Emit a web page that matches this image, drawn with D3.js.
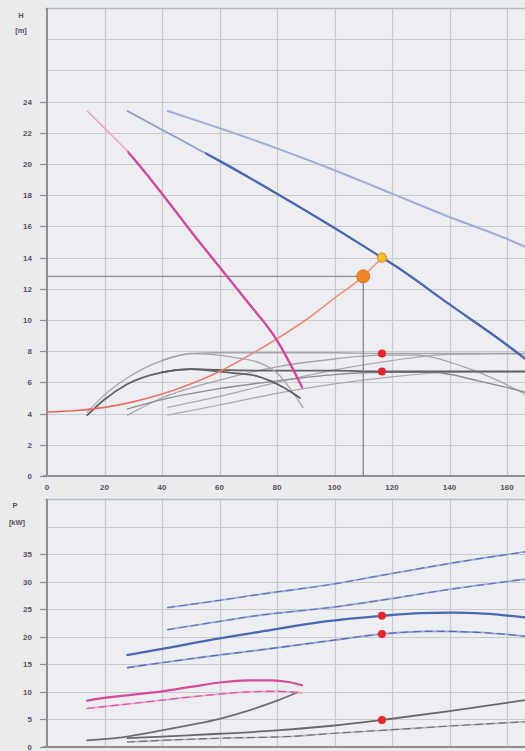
<!DOCTYPE html>
<html>
<head>
<meta charset="utf-8">
<script src="https://cdn.jsdelivr.net/npm/d3@7/dist/d3.min.js"></script>
<style>
  html, body { margin: 0; padding: 0; background: #e9ebed; overflow: hidden; }
  svg { display: block; }
  text { font-family: "Liberation Sans", Arial, sans-serif; }
</style>
</head>
<body>
<svg id="chart" width="525" height="751"></svg>
<script>
// ---- axis ticks ----
const qTicks = [0, 20, 40, 60, 80, 100, 120, 140, 160];
const hTicks = [0, 2, 4, 6, 8, 10, 12, 14, 16, 18, 20, 22, 24];
const hExtraGrid = [26, 28];
const pTicks = [0, 5, 10, 15, 20, 25, 30, 35];
const pExtraGrid = [40];

// ---- head curves H(Q) ----
const hLargePump = [[42,23.4],[60,22.3],[80,21.0],[100,19.6],[120,18.1],[140,16.6],[160,15.2],[170,14.4]];
const hSelectedPump = [[28,23.4],[40,22.2],[53,20.9],[60,20.2],[80,18.1],[100,15.9],[116.5,14.0],[120,13.6],[140,11.0],[160,8.4],[170,7.0]];
const hSmallPump = [[14,23.4],[20,22.3],[28,20.8],[40,18.1],[53,15.0],[60,13.4],[70,11.1],[80,8.7],[84,7.4],[88.7,5.7]];
const systemCurve = [[0,4.1],[10,4.2],[20,4.4],[30,4.75],[40,5.25],[50,5.9],[60,6.7],[70,7.7],[80,8.8],[90,10.0],[100,11.4],[110,12.8],[116.5,14.0]];

// ---- efficiency curves (grey) on the head chart ----
const etaSmallA = [[14,4.1],[20,5.2],[28,6.3],[40,7.4],[50,7.85],[57,7.8],[65,7.6],[74,7.25],[80,6.6],[89,4.4]];
const etaSmallB = [[14,3.9],[20,4.9],[28,5.9],[40,6.65],[50,6.85],[57,6.75],[65,6.6],[73,6.4],[82,5.7],[88,5.0]];
const etaFlatA = [[40,7.4],[50,7.85],[60,7.9],[80,7.9],[100,7.9],[116.5,7.85],[140,7.85],[170,7.85]];
const etaFlatB = [[40,6.65],[50,6.85],[60,6.8],[80,6.75],[100,6.75],[116.5,6.7],[140,6.7],[170,6.7]];
const etaSelA = [[28,3.9],[40,5.0],[60,6.15],[80,7.0],[100,7.5],[116.5,7.75],[128,7.75],[145,7.0],[170,4.9]];
const etaSelB = [[28,4.3],[40,4.9],[60,5.6],[80,6.1],[100,6.5],[116.5,6.65],[134,6.65],[150,6.1],[170,5.2]];
const etaLargeA = [[42,4.4],[60,5.1],[80,6.0],[100,6.8],[120,7.4],[140,7.8],[170,7.85]];
const etaLargeB = [[42,3.9],[60,4.55],[80,5.3],[100,5.9],[120,6.35],[140,6.65],[170,6.7]];

// ---- power curves P(Q) ----
const pLargeA = [[42,25.3],[60,26.6],[74,27.7],[100,29.6],[117,31.2],[140,33.3],[170,35.7]];
const pLargeB = [[42,21.3],[60,22.8],[74,23.9],[100,25.4],[117,26.7],[140,28.6],[170,30.7]];
const pSelectedA = [[28,16.7],[40,17.8],[60,19.7],[74,20.9],[97,22.8],[116.5,23.8],[130,24.3],[141,24.4],[152,24.2],[170,23.3]];
const pSelectedB = [[28,14.4],[40,15.3],[60,16.7],[74,17.6],[100,19.4],[116.5,20.5],[134,21.0],[150,20.8],[170,19.9]];
const pSmallA = [[14,8.4],[20,8.9],[30,9.5],[40,10.1],[50,10.9],[60,11.7],[70,12.1],[78,12.1],[84,11.8],[88.7,11.2]];
const pSmallB = [[14,7.0],[30,7.9],[40,8.5],[60,9.6],[70,10.0],[80,10.1],[88.7,9.8]];
const pGreySmall = [[14,1.2],[28,1.9],[40,3.0],[50,4.0],[60,5.1],[70,6.6],[80,8.4],[87,9.9]];
const pGreySel = [[28,1.6],[40,1.9],[60,2.4],[80,3.0],[100,3.9],[116.5,4.9],[140,6.5],[170,8.8]];
const pGreyDash = [[28,0.9],[40,1.2],[60,1.6],[84,1.9],[100,2.5],[119,3.1],[140,3.8],[170,4.7]];

// ---- duty point ----
const dutyQ = 110, dutyH = 12.8;
const crossing = [116.5, 14.0];
const etaMarks = [[116.5,7.85],[116.5,6.7]];
const powerMarks = [[116.5,23.8],[116.5,20.5],[116.5,4.9]];

const svg = d3.select("#chart");

const x = d3.scaleLinear().domain([0, 160]).range([47, 507]);
const yH = d3.scaleLinear().domain([0, 30]).range([476, 8]);
const yP = d3.scaleLinear().domain([0, 45]).range([747, 499]);

const gridColor = "#c8cacd";
const axisColor = "#8d8f93";
const labelColor = "#5e4d58";

function panel(y, yTicks, extra, yTop, yBottom) {
  const g = svg.append("g");
  g.append("rect").attr("x", x(0)).attr("y", yTop).attr("width", 525 - x(0)).attr("height", yBottom - yTop)
    .attr("fill", "#eceef1");
  g.selectAll(".hg").data(yTicks.concat(extra)).join("line")
    .attr("x1", x(0)).attr("x2", 525)
    .attr("y1", d => Math.round(y(d)) + 0.5).attr("y2", d => Math.round(y(d)) + 0.5)
    .attr("stroke", gridColor).attr("stroke-width", 1.2);
  g.selectAll(".vg").data(qTicks.slice(1)).join("line")
    .attr("x1", d => Math.round(x(d)) + 0.5).attr("x2", d => Math.round(x(d)) + 0.5)
    .attr("y1", yTop).attr("y2", yBottom)
    .attr("stroke", gridColor).attr("stroke-width", 1.2);
  g.append("line").attr("x1", x(0) - 2).attr("x2", 525).attr("y1", yTop + 0.5).attr("y2", yTop + 0.5)
    .attr("stroke", "#b9bbbe").attr("stroke-width", 1.5);
  g.selectAll(".yt").data(yTicks).join("line")
    .attr("x1", x(0) - 7).attr("x2", x(0))
    .attr("y1", d => Math.round(y(d)) + 0.5).attr("y2", d => Math.round(y(d)) + 0.5)
    .attr("stroke", axisColor).attr("stroke-width", 1.2);
  g.selectAll(".yl").data(yTicks).join("text")
    .attr("x", x(0) - 15).attr("y", d => y(d) + 3)
    .attr("text-anchor", "end").attr("font-size", 8).attr("font-weight", "bold")
    .attr("fill", labelColor).text(d => d);
  g.append("line").attr("x1", x(0)).attr("x2", x(0)).attr("y1", yTop).attr("y2", yBottom + 1)
    .attr("stroke", axisColor).attr("stroke-width", 2);
  g.append("line").attr("x1", x(0) - 4).attr("x2", 525).attr("y1", yBottom).attr("y2", yBottom)
    .attr("stroke", axisColor).attr("stroke-width", 2);
  return g;
}

const headPanel = panel(yH, hTicks, hExtraGrid, 8, 476);
const powerPanel = panel(yP, pTicks, pExtraGrid, 499, 747);

// x tick labels under the head chart
headPanel.selectAll(".xl").data(qTicks).join("text")
  .attr("x", d => x(d)).attr("y", 490)
  .attr("text-anchor", "middle").attr("font-size", 8).attr("font-weight", "bold")
  .attr("fill", labelColor).text(d => d);

// axis titles
svg.append("text").attr("x", 21).attr("y", 18).attr("text-anchor", "middle")
  .attr("font-size", 7.5).attr("font-weight", "bold").attr("fill", labelColor).text("H");
svg.append("text").attr("x", 21).attr("y", 33).attr("text-anchor", "middle")
  .attr("font-size", 7.5).attr("font-weight", "bold").attr("fill", labelColor).text("[m]");
svg.append("text").attr("x", 15).attr("y", 508).attr("text-anchor", "middle")
  .attr("font-size", 7.5).attr("font-weight", "bold").attr("fill", labelColor).text("P");
svg.append("text").attr("x", 17).attr("y", 525).attr("text-anchor", "middle")
  .attr("font-size", 7.5).attr("font-weight", "bold").attr("fill", labelColor).text("[kW]");

// clip regions
const defs = svg.append("defs");
defs.append("clipPath").attr("id", "clipTop").append("rect")
  .attr("x", x(0)).attr("y", 8).attr("width", 525 - x(0)).attr("height", 468);
defs.append("clipPath").attr("id", "clipBot").append("rect")
  .attr("x", x(0)).attr("y", 499).attr("width", 525 - x(0)).attr("height", 248);
defs.append("clipPath").attr("id", "clipSelLow").append("rect")
  .attr("x", 0).attr("y", 0).attr("width", x(55)).attr("height", 751);
defs.append("clipPath").attr("id", "clipSelHigh").append("rect")
  .attr("x", x(55)).attr("y", 0).attr("width", 525).attr("height", 751);
defs.append("clipPath").attr("id", "clipSmallLow").append("rect")
  .attr("x", 0).attr("y", 0).attr("width", x(28)).attr("height", 751);
defs.append("clipPath").attr("id", "clipSmallHigh").append("rect")
  .attr("x", x(28)).attr("y", 0).attr("width", 525).attr("height", 751);

const sysGrad = defs.append("linearGradient").attr("id", "sysGrad")
  .attr("gradientUnits", "userSpaceOnUse")
  .attr("x1", x(0)).attr("x2", x(116.5)).attr("y1", 0).attr("y2", 0);
sysGrad.append("stop").attr("offset", "0%").attr("stop-color", "#e9605a");
sysGrad.append("stop").attr("offset", "100%").attr("stop-color", "#f19a86");

const lineH = d3.line().x(d => x(d[0])).y(d => yH(d[1])).curve(d3.curveMonotoneX);
const lineP = d3.line().x(d => x(d[0])).y(d => yP(d[1])).curve(d3.curveMonotoneX);

const gHead = svg.append("g").attr("clip-path", "url(#clipTop)");
const gPower = svg.append("g").attr("clip-path", "url(#clipBot)");

function path(g, gen, data, color, width, dash, clip) {
  const p = g.append("path").attr("d", gen(data)).attr("fill", "none")
    .attr("stroke", color).attr("stroke-width", width)
    .attr("stroke-linecap", "round").attr("stroke-linejoin", "round");
  if (dash) p.attr("stroke-dasharray", dash);
  if (clip) p.attr("clip-path", `url(#${clip})`);
  return p;
}

// grey efficiency curves
const etaLight = "#a4a6a9", etaDark = "#5f6165";
path(gHead, lineH, etaLargeB, "#a9abae", 1.2);
path(gHead, lineH, etaLargeA, "#a9abae", 1.2);
path(gHead, lineH, etaSelA, etaLight, 1.3);
path(gHead, lineH, etaSelB, "#8a8c90", 1.4);
path(gHead, lineH, etaFlatA, etaLight, 1.4);
path(gHead, lineH, etaFlatB, etaDark, 1.8);
path(gHead, lineH, etaSmallA, etaLight, 1.3);
path(gHead, lineH, etaSmallB, etaDark, 1.8);

// duty point guide lines
gHead.append("line").attr("x1", x(0)).attr("x2", x(dutyQ))
  .attr("y1", yH(dutyH)).attr("y2", yH(dutyH))
  .attr("stroke", "#8b8d90").attr("stroke-width", 1.2);
gHead.append("line").attr("x1", x(dutyQ)).attr("x2", x(dutyQ))
  .attr("y1", yH(dutyH)).attr("y2", yH(0))
  .attr("stroke", "#7d7f83").attr("stroke-width", 1.2);

// system curve
path(gHead, lineH, systemCurve, "url(#sysGrad)", 1.6);

// pump head curves
path(gHead, lineH, hLargePump, "#a2acd6", 2);
path(gHead, lineH, hSelectedPump, "#8f9dcd", 1.8, null, "clipSelLow");
path(gHead, lineH, hSelectedPump, "#4a66b0", 2.3, null, "clipSelHigh");
path(gHead, lineH, hSmallPump, "#f0a3c3", 1.5, null, "clipSmallLow");
path(gHead, lineH, hSmallPump, "#d4479b", 2.4, null, "clipSmallHigh");

// markers on the head chart
gHead.selectAll(".eta").data(etaMarks).join("circle")
  .attr("cx", d => x(d[0])).attr("cy", d => yH(d[1])).attr("r", 4)
  .attr("fill", "#e9252b");
gHead.append("circle").attr("cx", x(crossing[0])).attr("cy", yH(crossing[1])).attr("r", 4.5)
  .attr("fill", "#f4bf2e").attr("stroke", "#e8902a").attr("stroke-width", 1.2);
gHead.append("circle").attr("cx", x(dutyQ)).attr("cy", yH(dutyH)).attr("r", 6.5)
  .attr("fill", "#ec8627").attr("stroke", "#e0761e").attr("stroke-width", 1);

// power curves: dashed ones are a light base with darker dashes
function dashed(g, data, base, dashColor, w) {
  path(g, lineP, data, base, w);
  path(g, lineP, data, dashColor, 1.1, "7 5");
}

dashed(gPower, pGreyDash, "#b1b3b6", "#6a6c70", 1.6);
path(gPower, lineP, pGreySmall, "#6b6d71", 1.8);
path(gPower, lineP, pGreySel, "#66686c", 1.8);
dashed(gPower, pSmallB, "#eca2c8", "#d6529e", 1.8);
path(gPower, lineP, pSmallA, "#d64a9c", 2.2);
dashed(gPower, pLargeA, "#a0acd8", "#5b70b5", 1.9);
dashed(gPower, pLargeB, "#a0acd8", "#5b70b5", 1.9);
dashed(gPower, pSelectedB, "#9aa7d5", "#5268b0", 1.9);
path(gPower, lineP, pSelectedA, "#4b67b1", 2.3);

gPower.selectAll(".pm").data(powerMarks).join("circle")
  .attr("cx", d => x(d[0])).attr("cy", d => yP(d[1])).attr("r", 4)
  .attr("fill", "#e9252b");
</script>
</body>
</html>
